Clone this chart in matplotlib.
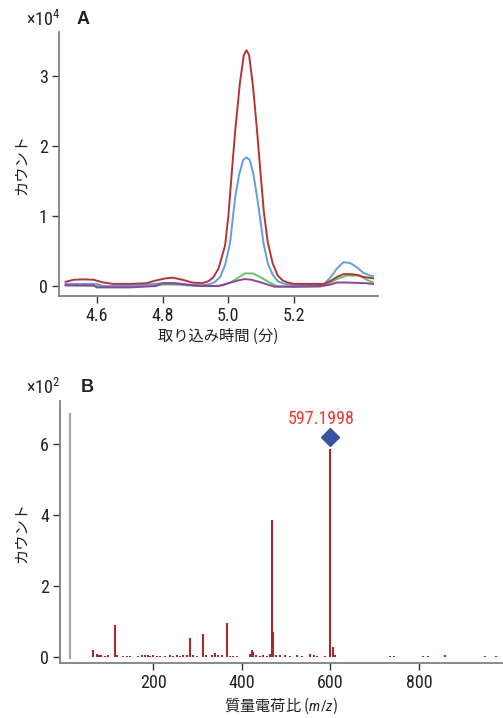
import matplotlib
matplotlib.use('Agg')
import matplotlib.pyplot as plt
from matplotlib import font_manager

# condensed latin face if there is one, else Roboto
_installed = {(f.name, f.stretch) for f in font_manager.fontManager.ttflist}
_names = {n for n, _ in _installed}
LATIN = 'Roboto'
STRETCH = 'normal'
for cand in ['Liberation Sans Narrow', 'Roboto Condensed', 'Open Sans Condensed', 'Noto Sans Condensed']:
    if cand in _names:
        LATIN = cand
        break
else:
    for n, s in _installed:
        if n in ('DejaVu Sans', 'Noto Sans', 'Open Sans', 'Roboto') and 'condensed' in str(s):
            LATIN, STRETCH = n, 'condensed'
            break

CJK = 'Noto Sans CJK JP'
plt.rcParams['font.family'] = [LATIN, CJK, 'DejaVu Sans']
plt.rcParams['font.stretch'] = STRETCH
plt.rcParams['mathtext.fontset'] = 'custom'
plt.rcParams['mathtext.it'] = LATIN + ':italic'
plt.rcParams['mathtext.rm'] = LATIN

# ---------------- panel A: extracted ion chromatograms (x10^4 counts)
red_t = [4.505, 4.53, 4.56, 4.59, 4.62, 4.65, 4.70, 4.75, 4.78, 4.81, 4.83, 4.86, 4.89,
         4.92, 4.94, 4.955, 4.97, 4.99, 5.00, 5.011, 5.021, 5.035, 5.047, 5.055, 5.063,
         5.075, 5.087, 5.097, 5.108, 5.12, 5.135, 5.15, 5.165, 5.18, 5.20, 5.25, 5.29,
         5.31, 5.33, 5.35, 5.37, 5.39, 5.41, 5.44]
red_v = [0.06, 0.09, 0.095, 0.09, 0.05, 0.03, 0.03, 0.04, 0.08, 0.11, 0.12, 0.09, 0.05,
         0.04, 0.07, 0.13, 0.25, 0.58, 1.00, 1.66, 2.23, 2.90, 3.30, 3.37, 3.30,
         2.85, 2.23, 1.66, 1.05, 0.62, 0.32, 0.15, 0.08, 0.05, 0.03, 0.03, 0.03,
         0.07, 0.13, 0.17, 0.17, 0.16, 0.13, 0.11]

blue_t = [4.505, 4.55, 4.60, 4.62, 4.68, 4.75, 4.80, 4.84, 4.88, 4.92, 4.945, 4.96,
          4.975, 4.99, 5.005, 5.013, 5.021, 5.033, 5.045, 5.055, 5.065, 5.076, 5.087,
          5.097, 5.107, 5.12, 5.135, 5.15, 5.165, 5.18, 5.20, 5.25, 5.29, 5.31, 5.33,
          5.35, 5.37, 5.39, 5.41, 5.43, 5.44]
blue_v = [0.03, 0.03, 0.03, 0.0, 0.0, 0.02, 0.04, 0.04, 0.02, 0.01, 0.03, 0.06,
          0.13, 0.30, 0.61, 0.95, 1.28, 1.60, 1.80, 1.84, 1.80, 1.60, 1.28,
          0.95, 0.61, 0.32, 0.16, 0.07, 0.04, 0.02, 0.01, 0.01, 0.02, 0.12, 0.25,
          0.34, 0.33, 0.27, 0.19, 0.15, 0.14]

green_t = [4.505, 4.60, 4.70, 4.80, 4.85, 4.90, 4.95, 4.985, 5.01, 5.03, 5.05, 5.075,
           5.10, 5.125, 5.147, 5.20, 5.28, 5.30, 5.33, 5.36, 5.40, 5.42, 5.44]
green_v = [0.01, 0.0, 0.0, 0.02, 0.02, 0.0, 0.0, 0.01, 0.06, 0.12, 0.18, 0.18,
           0.12, 0.05, 0.0, -0.01, -0.01, 0.02, 0.10, 0.15, 0.15, 0.09, 0.05]

purple_t = [4.505, 4.59, 4.60, 4.70, 4.78, 4.80, 4.83, 4.87, 4.92, 4.97, 5.00, 5.03,
            5.05, 5.07, 5.10, 5.14, 5.20, 5.28, 5.31, 5.33, 5.36, 5.42, 5.44]
purple_v = [0.01, 0.01, -0.02, -0.02, 0.0, 0.04, 0.04, 0.02, 0.0, 0.0, 0.04, 0.08,
            0.10, 0.09, 0.05, -0.01, -0.01, 0.0, 0.02, 0.05, 0.05, 0.04, 0.03]

# ---------------- panel B: mass spectrum (x10^2 counts)
ref_mz, ref_v = 12, 6.87
mz = [64.6, 72, 78, 83, 91, 98, 113.5, 119, 132, 140, 147, 166, 174, 181, 189, 193,
      200, 208, 215, 226, 238, 245, 253, 260, 268, 275, 283, 290, 298, 313, 320, 332,
      339, 347, 354, 366, 373, 381, 388, 418, 422, 426, 433, 441, 448, 456, 464, 467.5,
      471, 478, 487, 498, 509, 524, 536, 554, 562, 569, 588, 599, 605, 611, 735, 743,
      810, 820, 858, 948, 975]
counts = [0.19, 0.07, 0.04, 0.06, 0.03, 0.04, 0.89, 0.04, 0.02, 0.02, 0.03, 0.03, 0.05,
          0.04, 0.06, 0.03, 0.04, 0.03, 0.03, 0.03, 0.04, 0.03, 0.05, 0.03, 0.06, 0.04,
          0.52, 0.04, 0.03, 0.63, 0.05, 0.06, 0.10, 0.06, 0.04, 0.94, 0.03, 0.03, 0.03,
          0.08, 0.20, 0.12, 0.04, 0.03, 0.05, 0.03, 0.08, 3.85, 0.71, 0.04, 0.06, 0.04,
          0.03, 0.04, 0.03, 0.08, 0.04, 0.03, 0.03, 5.87, 0.28, 0.04, 0.03, 0.03, 0.03,
          0.03, 0.06, 0.03, 0.03]
prec_mz, prec_v, prec_label = 599, 6.19, '597.1998'

fig = plt.figure(figsize=(5.03, 7.18), dpi=100)
TXT = '#222222'
TICKSIZE = 13 if STRETCH == 'condensed' or LATIN != 'Roboto' else 11.5


def style_axes(ax):
    for s in ['top', 'right']:
        ax.spines[s].set_visible(False)
    for s in ['left', 'bottom']:
        ax.spines[s].set_color('#808080')
        ax.spines[s].set_linewidth(1.3)
    ax.tick_params(direction='out', length=5, width=1, color='#333333',
                   labelsize=TICKSIZE, labelcolor=TXT, pad=3)


def scale_note(x, y, power):
    fig.text(x, y, r'$\mathregular{\times10^{%s}}$' % power, fontsize=TICKSIZE,
             va='center', ha='left', color=TXT)


# ---- A
axA = fig.add_axes([0.1173, 0.5877, 0.6342, 0.3677])
axA.plot(green_t, green_v, color='#5ec85e', lw=1.4)
axA.plot(blue_t, blue_v, color='#5f9fe0', lw=1.4)
axA.plot(purple_t, purple_v, color='#9440a0', lw=1.4)
axA.plot(red_t, red_v, color='#b83434', lw=1.4)
axA.set_xlim(4.485, 5.455)
axA.set_ylim(-0.143, 3.63)
axA.set_xticks([4.6, 4.8, 5.0, 5.2])
axA.set_xticklabels(['4.6', '4.8', '5.0', '5.2'])
axA.set_yticks([0, 1, 2, 3])
style_axes(axA)
axA.set_xlabel('取り込み時間 (分)', fontsize=11, family=[CJK], labelpad=2, color=TXT)
axA.set_ylabel('カウント', fontsize=11, family=[CJK], color=TXT)
axA.yaxis.set_label_coords(-0.09, 0.5)
scale_note(26 / 503, 1 - 20 / 718, '4')
fig.text(83 / 503, 1 - 20 / 718, 'A', fontsize=13, fontweight='bold', va='center', ha='center',
         family=['Liberation Sans'], color=TXT)

# ---- B
axB = fig.add_axes([0.1193, 0.0762, 0.8807, 0.3657])
axB.vlines([ref_mz], -0.07, [ref_v], color='#a6a6a6', lw=1.6)
axB.vlines(mz, 0, counts, color='#a52a2a', lw=1.5)
axB.plot([prec_mz], [prec_v], marker='D', ms=9, color='#3853a4', ls='none')
axB.annotate(prec_label, (prec_mz, prec_v), xytext=(-6.7, 13), textcoords='offset points',
             ha='center', va='center', fontsize=TICKSIZE, color='#ee3b2b')
axB.set_xlim(-10.7, 989.7)
axB.set_ylim(-0.186, 7.22)
axB.set_xticks([200, 400, 600, 800])
axB.set_yticks([0, 2, 4, 6])
style_axes(axB)
axB.set_xlabel('質量電荷比 ($m/z$)', fontsize=11, family=[CJK], labelpad=2, color=TXT)
axB.set_ylabel('カウント', fontsize=11, family=[CJK], color=TXT)
axB.yaxis.set_label_coords(-0.068, 0.5)
scale_note(26 / 503, 1 - 388 / 718, '2')
fig.text(87 / 503, 1 - 388 / 718, 'B', fontsize=13, fontweight='bold', va='center', ha='center',
         family=['Liberation Sans'], color=TXT)

fig.savefig('out.png', dpi=100)
